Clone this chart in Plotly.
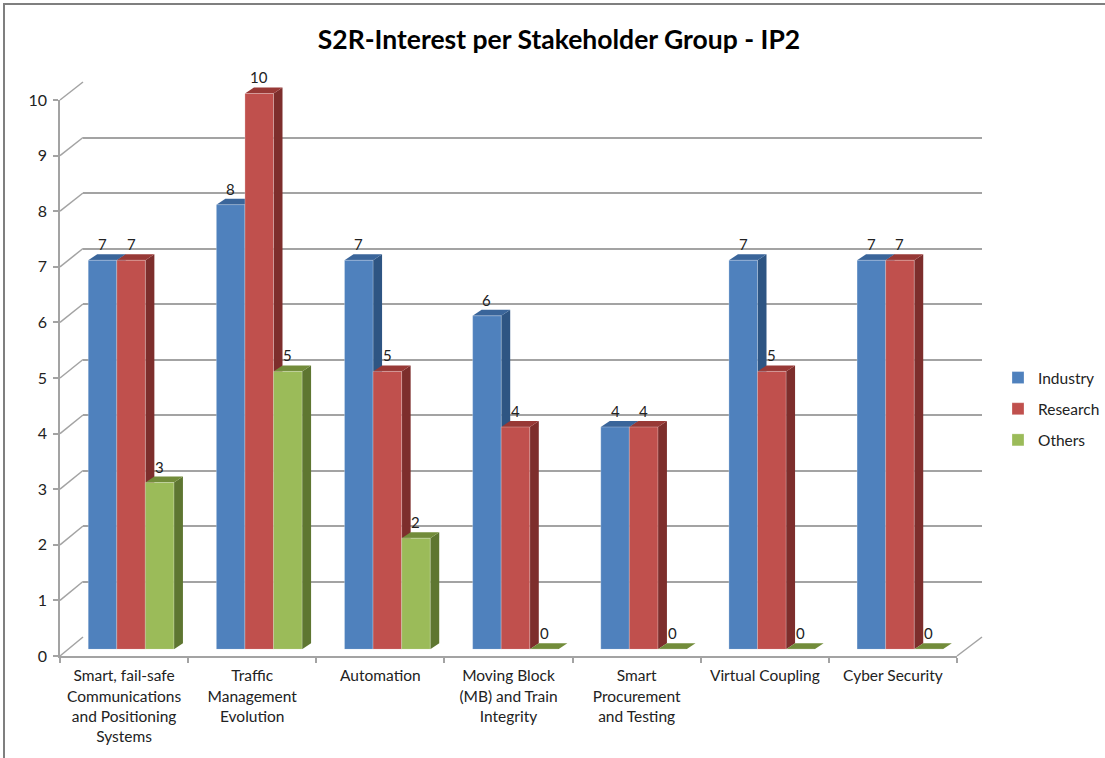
import plotly.graph_objects as go

# ---------------- data ----------------
categories = [
    "Smart, fail-safe Communications and Positioning Systems",
    "Traffic Management Evolution",
    "Automation",
    "Moving Block (MB) and Train Integrity",
    "Smart Procurement and Testing",
    "Virtual Coupling",
    "Cyber Security",
]
tick_labels = [
    "Smart, fail-safe<br>Communications<br>and Positioning<br>Systems",
    "Traffic<br>Management<br>Evolution",
    "Automation",
    "Moving Block<br>(MB) and Train<br>Integrity",
    "Smart<br>Procurement<br>and Testing",
    "Virtual Coupling",
    "Cyber Security",
]
series_names = ["Industry", "Research", "Others"]
industry = [7, 8, 7, 6, 4, 7, 7]
research = [7, 10, 5, 4, 4, 5, 7]
others = [3, 5, 2, 0, 0, 0, 0]
y_ticks = list(range(0, 11))
title_text = "S2R-Interest per Stakeholder Group - IP2"

# ---------------- style ----------------
FONT = "Lato"
front_colors = ["#4F81BD", "#C0504D", "#9BBB59"]
side_colors = ["#2E5583", "#7D2E2C", "#5E7631"]
top_colors = ["#3A659A", "#983936", "#728C3A"]
grid_color = "#A3A3A3"
text_color = "#222222"

FIG_W, FIG_H = 1105, 758
L, R, T, B = 60, 982, 58, 656
PW, PH = R - L, B - T


def px_x(x):
    return (x - L) / PW


def px_y(y):
    return (B - y) / PH


# planes (pixel geometry of the pseudo-3D box)
FRONT = dict(x0=60, x1=957, y0=656, y10=100)
BACK = dict(x0=83, x1=982, y0=637, y10=82)
BARS = dict(x0=67, x1=964, y0=649.3, y10=93.5)
bar_top_range = 10.5
bar_unit = (BARS["y0"] - BARS["y10"]) / 10.0
bar_top_px = BARS["y0"] - bar_top_range * bar_unit
cat_px = (BARS["x1"] - BARS["x0"]) / len(categories)
DEPTH_X_PX, DEPTH_Y_PX = 9.0, 6.0
dx = DEPTH_X_PX / cat_px
dy = DEPTH_Y_PX / bar_unit

bargap = 0.331
n_series = 3
bar_w = (1 - bargap) / n_series

fig = go.Figure()

# back wall (gridlines) on x/y
fig.add_trace(go.Scatter(x=[0, 1], y=[0, 0], mode="markers", marker=dict(opacity=0),
                         xaxis="x", yaxis="y", showlegend=False, hoverinfo="skip"))

# bars on x2/y2
values = [industry, research, others]
for k, (name, vals) in enumerate(zip(series_names, values)):
    fig.add_trace(go.Bar(
        x=categories, y=vals, name=name, xaxis="x2", yaxis="y2",
        marker=dict(color=front_colors[k], line=dict(width=0.6, color="rgba(255,255,255,0.45)")),
        legendgroup=name, hoverinfo="x+y+name",
    ))

# front axes x3/y3
fig.add_trace(go.Scatter(x=categories, y=[0] * len(categories), mode="markers",
                         marker=dict(opacity=0), xaxis="x3", yaxis="y3",
                         showlegend=False, hoverinfo="skip"))

shapes = []
annotations = []
# 3D faces of bars and data labels
for k, vals in enumerate(values):
    for i, v in enumerate(vals):
        xc = i + (k - (n_series - 1) / 2) * bar_w
        xl, xr = xc - bar_w / 2, xc + bar_w / 2
        if v > 0:
            shapes.append(dict(
                type="path", xref="x2", yref="y2", layer="between",
                path=f"M{xr},0 L{xr},{v} L{xr+dx},{v+dy} L{xr+dx},{dy} Z",
                fillcolor=side_colors[k], line=dict(width=0),
            ))
        shapes.append(dict(
            type="path", xref="x2", yref="y2", layer="between",
            path=f"M{xl},{v} L{xr},{v} L{xr+dx},{v+dy} L{xl+dx},{v+dy} Z",
            fillcolor=top_colors[k], line=dict(width=0),
        ))
        annotations.append(dict(
            x=xc, y=v, xref="x2", yref="y2", text=str(v), showarrow=False,
            yanchor="bottom", yshift=5, font=dict(family=FONT, size=15, color=text_color),
        ))

# left wall diagonals at each gridline level + floor right edge
f_unit = (FRONT["y0"] - FRONT["y10"]) / 10.0
b_unit = (BACK["y0"] - BACK["y10"]) / 10.0
for v in y_ticks:
    shapes.append(dict(
        type="line", xref="paper", yref="paper", layer="below",
        x0=px_x(FRONT["x0"]), y0=px_y(FRONT["y0"] - v * f_unit),
        x1=px_x(BACK["x0"]), y1=px_y(BACK["y0"] - v * b_unit),
        line=dict(color=grid_color, width=1.5),
    ))
shapes.append(dict(
    type="line", xref="paper", yref="paper", layer="below",
    x0=px_x(FRONT["x1"]), y0=px_y(FRONT["y0"]),
    x1=px_x(BACK["x1"]), y1=px_y(BACK["y0"]),
    line=dict(color=grid_color, width=1.5),
))
# chart frame
shapes.append(dict(
    type="rect", xref="paper", yref="paper", layer="below",
    x0=px_x(4), y0=px_y(1200), x1=px_x(1400), y1=px_y(4),
    line=dict(color="#7F7F7F", width=2), fillcolor="rgba(0,0,0,0)",
))

fig.update_layout(
    width=FIG_W, height=FIG_H,
    margin=dict(l=L, r=FIG_W - R, t=T, b=FIG_H - B, pad=0, autoexpand=False),
    paper_bgcolor="white", plot_bgcolor="rgba(0,0,0,0)",
    font=dict(family=FONT, size=15, color=text_color),
    title=dict(text=f"<b>{title_text}</b>", x=559 / FIG_W, xanchor="center",
               y=1 - 40 / FIG_H, yanchor="middle", yref="container",
               font=dict(family=FONT, size=26.5, color="#000000")),
    barmode="group", bargap=bargap, bargroupgap=0,
    showlegend=True,
    legend=dict(x=px_x(998), y=px_y(409), xanchor="left", yanchor="middle",
                font=dict(family=FONT, size=15.5, color=text_color),
                tracegroupgap=8, bgcolor="rgba(0,0,0,0)"),
    # back wall
    xaxis=dict(domain=[px_x(BACK["x0"]), px_x(BACK["x1"])], range=[0, 1], anchor="y",
               showgrid=False, showticklabels=False, zeroline=False, showline=False, fixedrange=True),
    yaxis=dict(domain=[px_y(BACK["y0"]), px_y(BACK["y10"])], range=[0, 10], anchor="x",
               tickvals=y_ticks, showgrid=True, gridcolor=grid_color, gridwidth=1.5,
               showticklabels=False, zeroline=False, showline=False, ticks="", fixedrange=True),
    # bar plane
    xaxis2=dict(domain=[px_x(BARS["x0"]), px_x(BARS["x1"])], type="category",
                categoryorder="array", categoryarray=categories,
                range=[-0.5, len(categories) - 0.5], anchor="y2",
                showgrid=False, showticklabels=False, zeroline=False, showline=False, fixedrange=True),
    yaxis2=dict(domain=[px_y(BARS["y0"]), px_y(bar_top_px)], range=[0, bar_top_range], anchor="x2",
                showgrid=False, showticklabels=False, zeroline=False, showline=False, fixedrange=True),
    # front axes
    xaxis3=dict(domain=[px_x(FRONT["x0"]), px_x(FRONT["x1"])], type="category",
                categoryorder="array", categoryarray=categories,
                range=[-0.5, len(categories) - 0.5], anchor="y3",
                tickmode="array", tickvals=categories, ticktext=tick_labels,
                tickson="boundaries", ticks="outside", ticklen=5, tickcolor=grid_color, tickwidth=1.5,
                ticklabelstandoff=5,
                showline=True, linecolor=grid_color, linewidth=1.5,
                showgrid=False, zeroline=False, tickfont=dict(family=FONT, size=15.5, color=text_color),
                fixedrange=True),
    yaxis3=dict(domain=[px_y(FRONT["y0"]), px_y(FRONT["y10"])], range=[0, 10], anchor="x3",
                tickvals=y_ticks, ticks="outside", ticklen=5, tickcolor=grid_color, tickwidth=1.5,
                ticklabelstandoff=3,
                showline=True, linecolor=grid_color, linewidth=1.5,
                showgrid=False, zeroline=False, tickfont=dict(family=FONT, size=16, color=text_color),
                fixedrange=True),
    shapes=shapes,
    annotations=annotations,
)

fig.write_html("out.html", config={"displayModeBar": False},
               post_script="document.body.style.margin='0';")
